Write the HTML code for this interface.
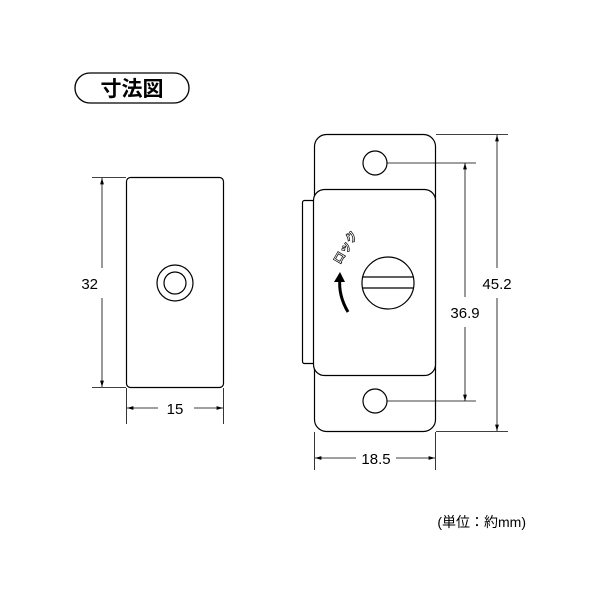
<!DOCTYPE html>
<html><head><meta charset="utf-8"><style>body{margin:0;background:#fff}svg{display:block}</style></head>
<body>
<svg width="600" height="600" viewBox="0 0 600 600" xmlns="http://www.w3.org/2000/svg" font-family="Liberation Sans, Noto Sans CJK JP, sans-serif">
<defs>
<marker id="a" viewBox="0 0 10 10" refX="10" refY="5" markerWidth="8" markerHeight="8" orient="auto-start-reverse"><path d="M0,2 L10,5 L0,8 z" fill="#000"/></marker>
</defs>
<rect x="75" y="73" width="114" height="30" rx="15" fill="#fff" stroke="#000" stroke-width="1.3"/>
<text x="132" y="96" font-size="21" font-weight="bold" text-anchor="middle" font-family="Noto Sans CJK JP, sans-serif">寸法図</text>

<g fill="none" stroke="#000" stroke-width="1.2">
<rect x="126.5" y="177.5" width="97" height="210" rx="4"/>
<circle cx="175" cy="283" r="18"/>
<circle cx="175" cy="283" r="11"/>
</g>
<g stroke="#000" stroke-width="0.8" fill="none">
<line x1="92" y1="177.5" x2="126" y2="177.5"/>
<line x1="92" y1="387.5" x2="126" y2="387.5"/>
<line x1="102" y1="178" x2="102" y2="268" marker-start="url(#a)"/>
<line x1="102" y1="298" x2="102" y2="387" marker-end="url(#a)"/>
<line x1="126.5" y1="388" x2="126.5" y2="424"/>
<line x1="223.5" y1="388" x2="223.5" y2="424"/>
<line x1="127" y1="408" x2="158" y2="408" marker-start="url(#a)"/>
<line x1="194" y1="408" x2="223" y2="408" marker-end="url(#a)"/>
</g>
<text x="98" y="289" font-size="15" text-anchor="end">32</text>
<text x="175" y="414" font-size="15" text-anchor="middle">15</text>

<g fill="#fff" stroke="#000" stroke-width="1.2">
<rect x="314.5" y="134.5" width="121" height="297" rx="12"/>
<rect x="302.5" y="200.5" width="12" height="163" rx="2"/>
<rect x="313.5" y="189.5" width="122" height="186" rx="11"/>
<circle cx="375" cy="163" r="12"/>
<circle cx="375" cy="401" r="12"/>
<circle cx="388" cy="283" r="26"/>
<line x1="362" y1="277" x2="414" y2="277"/>
<line x1="362" y1="288" x2="414" y2="288"/>
</g>
<path d="M348,312 Q338,295 340,278" fill="none" stroke="#000" stroke-width="3"/>
<path d="M334,282 L340,272 L345,282 z" fill="#000"/>
<text x="0" y="0" font-size="12" font-weight="bold" transform="translate(340,265) rotate(-60)" font-family="Noto Sans CJK JP, sans-serif" fill="#fff" stroke="#000" stroke-width="0.7">ロック</text>

<g stroke="#000" stroke-width="0.8" fill="none">
<line x1="436" y1="134.5" x2="508" y2="134.5"/>
<line x1="436" y1="431.5" x2="508" y2="431.5"/>
<line x1="387" y1="163" x2="476" y2="163"/>
<line x1="387" y1="401" x2="476" y2="401"/>
<line x1="497" y1="135" x2="497" y2="268" marker-start="url(#a)"/>
<line x1="497" y1="298" x2="497" y2="431" marker-end="url(#a)"/>
<line x1="465" y1="163" x2="465" y2="297" marker-start="url(#a)"/>
<line x1="465" y1="327" x2="465" y2="401" marker-end="url(#a)"/>
<line x1="314.5" y1="432" x2="314.5" y2="470"/>
<line x1="435.5" y1="432" x2="435.5" y2="470"/>
<line x1="315" y1="458" x2="356" y2="458" marker-start="url(#a)"/>
<line x1="396" y1="458" x2="435" y2="458" marker-end="url(#a)"/>
</g>
<text x="497" y="289" font-size="15" text-anchor="middle">45.2</text>
<text x="465" y="318" font-size="15" text-anchor="middle">36.9</text>
<text x="376" y="464" font-size="15" text-anchor="middle">18.5</text>
<text x="526" y="527" font-size="14" text-anchor="end">(単位：約mm)</text>
</svg>
</body></html>
